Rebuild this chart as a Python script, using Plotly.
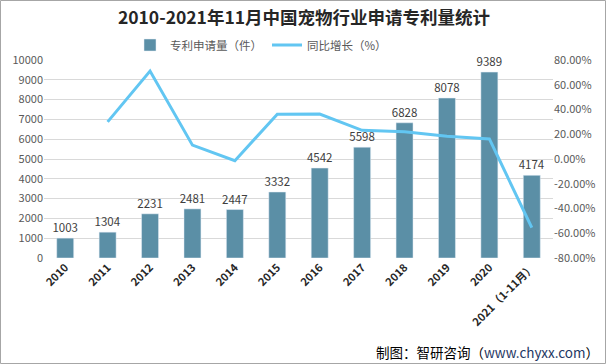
import plotly.graph_objects as go

years = ["2010", "2011", "2012", "2013", "2014", "2015", "2016", "2017", "2018", "2019", "2020", "2021（1-11月）"]
patents = [1003, 1304, 2231, 2481, 2447, 3332, 4542, 5598, 6828, 8078, 9389, 4174]
growth = [None, 30.0, 71.1, 11.2, -1.4, 36.2, 36.3, 23.2, 22.0, 18.3, 16.2, -55.5]
left_ticks = [0, 1000, 2000, 3000, 4000, 5000, 6000, 7000, 8000, 9000, 10000]
right_ticks = [-80, -60, -40, -20, 0, 20, 40, 60, 80]

FONT = "Noto Sans CJK SC"
W, H = 606, 364
ml, mr, mt, mb = 44, 53, 60, 106
pw, ph = W - ml - mr, H - mt - mb

fig = go.Figure()
fig.add_trace(go.Bar(
    x=years, y=patents, name="专利申请量（件）",
    marker=dict(color="#5B8FA6"),
    text=[str(v) for v in patents], textposition="outside",
    textfont=dict(size=11.5, color="#404040", family=FONT),
    constraintext="none", cliponaxis=False,
))
fig.add_trace(go.Scatter(
    x=years, y=growth, name="同比增长（%）", yaxis="y2",
    mode="lines", line=dict(color="#62C6F2", width=3),
    connectgaps=False,
))

fig.update_layout(
    width=W, height=H,
    margin=dict(l=ml, r=mr, t=mt, b=mb),
    paper_bgcolor="white", plot_bgcolor="white",
    font=dict(family=FONT, size=11, color="#595959"),
    title=dict(text="<b>2010-2021年11月中国宠物行业申请专利量统计</b>",
               x=(304 - ml) / pw, xref="paper", xanchor="center", y=1 - 18 / H, yanchor="middle",
               font=dict(size=17.5, color="#262626", family=FONT)),
    legend=dict(orientation="h", x=(130 - ml) / pw, xanchor="left", y=1 + 15 / ph, yanchor="middle",
                font=dict(size=11.5, color="#595959", family=FONT), bgcolor="rgba(0,0,0,0)",
                itemwidth=30, tracegroupgap=0),
    bargap=0.6,
    xaxis=dict(type="category", tickangle=-45, showline=False, ticks="",
               tickfont=dict(size=11, color="#262626", family=FONT, weight="bold")),
    yaxis=dict(range=[0, 10000], tickvals=left_ticks, ticktext=[str(v) for v in left_ticks],
               showgrid=True, gridcolor="#D9D9D9",
               gridwidth=1, zeroline=False, showline=False, ticks="",
               tickfont=dict(size=11, color="#595959")),
    yaxis2=dict(range=[-80, 80], tickvals=right_ticks,
                ticktext=[f"{v:.2f}%" for v in right_ticks], overlaying="y", side="right",
                showgrid=False, zeroline=False,
                tickfont=dict(size=11, color="#595959")),
    showlegend=True,
)

fig.add_shape(type="rect", xref="paper", yref="paper",
              x0=(-ml + 0.5) / pw, x1=(W - ml - 0.5) / pw,
              y0=(-mb + 0.5) / ph, y1=(H - mb - 0.5) / ph,
              line=dict(color="#A6A6A6", width=1), fillcolor="rgba(0,0,0,0)", layer="above")

fig.add_annotation(xref="paper", yref="paper",
                   x=(W - ml - 5) / pw, y=(12 - mb) / ph, xanchor="right", yanchor="middle",
                   text="制图：智研咨询（<span style='color:#1F3864'>www.chyxx.com</span>）",
                   showarrow=False, font=dict(size=13.5, color="#000000", family=FONT))

fig.write_html("out.html", config={"displayModeBar": False},
               post_script="document.body.style.margin='0px';document.body.style.overflow='hidden';")
